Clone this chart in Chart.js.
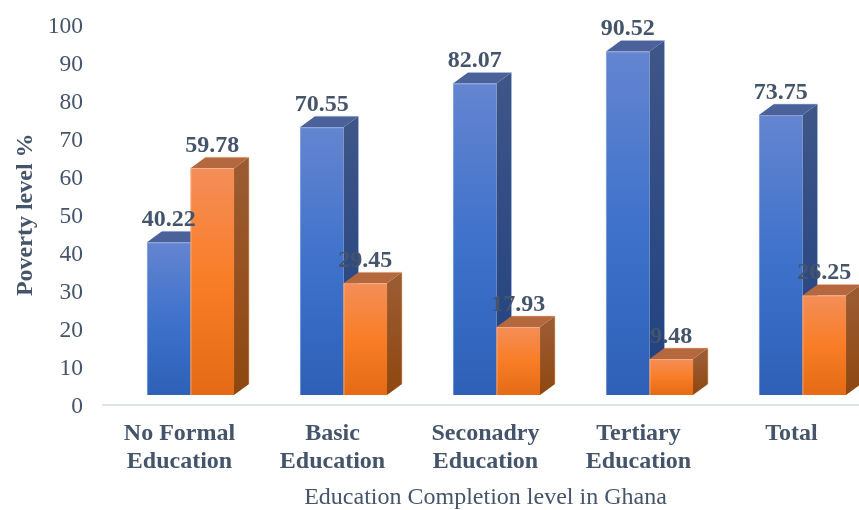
<!DOCTYPE html>
<html><head><meta charset="utf-8">
<style>html,body{margin:0;padding:0;background:#fff;overflow:hidden;width:859px;height:510px}canvas{display:block}</style>
<script src="https://cdn.jsdelivr.net/npm/chart.js@4"></script></head>
<body><canvas id="c" width="868" height="510"></canvas>
<script>
const categories = [["No Formal","Education"],["Basic","Education"],["Seconadry","Education"],["Tertiary","Education"],["Total"]];
const blueValues = [40.22,70.55,82.07,90.52,73.75];
const orangeValues = [59.78,29.45,17.93,9.48,26.25];
const yTicks = [0,10,20,30,40,50,60,70,80,90,100];
const INK = '#44546A', SERIF = '"Liberation Serif"';
const OFF_X = 11, OFF_Y = -9.5, DEPTH_X = 15, DEPTH_Y = 11, TICK_SHIFT = 2;
const skins = [
 {front:['#6485d0','#3f72cb','#2d60b6'], side:['#3e5587','#1f4180'], top:'#4a6199', edge:'rgba(170,190,235,.55)'},
 {front:['#f48e58','#f97d26','#e46a15'], side:['#9b5b31','#8e470f'], top:'#b5683d', edge:'rgba(250,195,160,.55)'}
];
function grad(ctx,y0,y1,stops){
  const g=ctx.createLinearGradient(0,y0,0,y1);
  stops.forEach((c,i)=>g.addColorStop(i/(stops.length-1),c));
  return g;
}
function frontFill(i){
  return c=>{
    const ch=c.chart; if(c.type!=='data'||!ch.scales.y) return skins[i].front[1];
    const y0=ch.scales.y.getPixelForValue(c.parsed.y), y1=ch.scales.y.getPixelForValue(0);
    if(!isFinite(y0)||!isFinite(y1)) return skins[i].front[1];
    return grad(ch.ctx,y0,y1,skins[i].front);
  };
}
function faces(ctx,b,s){
  const L=b.x-b.width/2,R=b.x+b.width/2,T=b.y,B=b.base;
  ctx.fillStyle=grad(ctx,T,B,s.side);
  ctx.beginPath();ctx.moveTo(R,T);ctx.lineTo(R+DEPTH_X,T-DEPTH_Y);ctx.lineTo(R+DEPTH_X,B-DEPTH_Y);ctx.lineTo(R,B);ctx.closePath();ctx.fill();
  ctx.fillStyle=s.top;
  ctx.beginPath();ctx.moveTo(L,T);ctx.lineTo(L+DEPTH_X,T-DEPTH_Y);ctx.lineTo(R+DEPTH_X,T-DEPTH_Y);ctx.lineTo(R,T);ctx.closePath();ctx.fill();
  ctx.strokeStyle=s.edge;ctx.lineWidth=1;
  ctx.beginPath();ctx.moveTo(L+DEPTH_X,T-DEPTH_Y);ctx.lineTo(R+DEPTH_X,T-DEPTH_Y);ctx.lineTo(R+DEPTH_X,B-DEPTH_Y);ctx.stroke();
}
const bars3d = {
  id:'bars3d',
  beforeDatasetsDraw(ch){
    const ctx=ch.ctx;
    ctx.save();ctx.translate(OFF_X,OFF_Y);
    [0,1].forEach(d=>{
      const meta=ch.getDatasetMeta(d), s=skins[d];
      meta.data.forEach(b=>faces(ctx,b,s));
      meta.controller.draw();
      meta.data.forEach(b=>{
        const L=b.x-b.width/2,R=b.x+b.width/2;
        ctx.strokeStyle=s.edge;ctx.lineWidth=1;
        ctx.beginPath();ctx.moveTo(L+.5,b.base);ctx.lineTo(L+.5,b.y+.5);ctx.lineTo(R,b.y+.5);ctx.stroke();
      });
    });
    ctx.font='bold 24px '+SERIF;ctx.fillStyle=INK;ctx.textAlign='center';ctx.textBaseline='middle';
    [0,1].forEach(d=>ch.getDatasetMeta(d).data.forEach((b,i)=>{
      ctx.fillText(ch.data.datasets[d].data[i].toFixed(2),b.x,b.y-22.5);
    }));
    ctx.restore();
    return false;
  }
};
new Chart(document.getElementById('c'),{
  type:'bar',
  data:{labels:categories,datasets:[
    {label:'Poor',data:blueValues,backgroundColor:frontFill(0),borderWidth:0,barPercentage:1,categoryPercentage:0.569},
    {label:'Non-poor',data:orangeValues,backgroundColor:frontFill(1),borderWidth:0,barPercentage:1,categoryPercentage:0.569}
  ]},
  plugins:[bars3d],
  options:{
    responsive:false,animation:false,
    layout:{autoPadding:false,padding:{top:25,left:0,right:0,bottom:0}},
    plugins:{legend:{display:false},tooltip:{enabled:false}},
    scales:{
      x:{
        afterFit(s){s.height=105.5;s.paddingLeft=0;s.paddingRight=0;},
        grid:{display:false,drawTicks:false},
        border:{display:true,color:'#dfe3ea',width:2},
        ticks:{color:INK,font:{family:SERIF,size:24,weight:'bold',lineHeight:28/24},padding:15.5,maxRotation:0,autoSkip:false},
        title:{display:true,text:'Education Completion level in Ghana',color:INK,font:{family:SERIF,size:24,lineHeight:1},padding:{top:0,bottom:0}}
      },
      y:{
        afterFit(s){
          s.width=103;s.paddingTop=0;s.paddingBottom=0;
          if(!s._shifted){
            s._shifted=true;
            const orig=s.drawLabels;
            s.drawLabels=function(a){this.ctx.save();this.ctx.translate(0,TICK_SHIFT);orig.call(this,a);this.ctx.restore();};
          }
        },
        min:0,max:100,
        afterBuildTicks(s){s.ticks=yTicks.map(v=>({value:v}));},
        grid:{display:false,drawTicks:false},
        border:{display:false},
        ticks:{color:INK,font:{family:SERIF,size:23.5},padding:20},
        title:{display:true,text:'Poverty level %',color:INK,font:{family:SERIF,size:24,weight:'bold'},padding:{top:11,bottom:0}}
      }
    }
  }
});
</script></body></html>
